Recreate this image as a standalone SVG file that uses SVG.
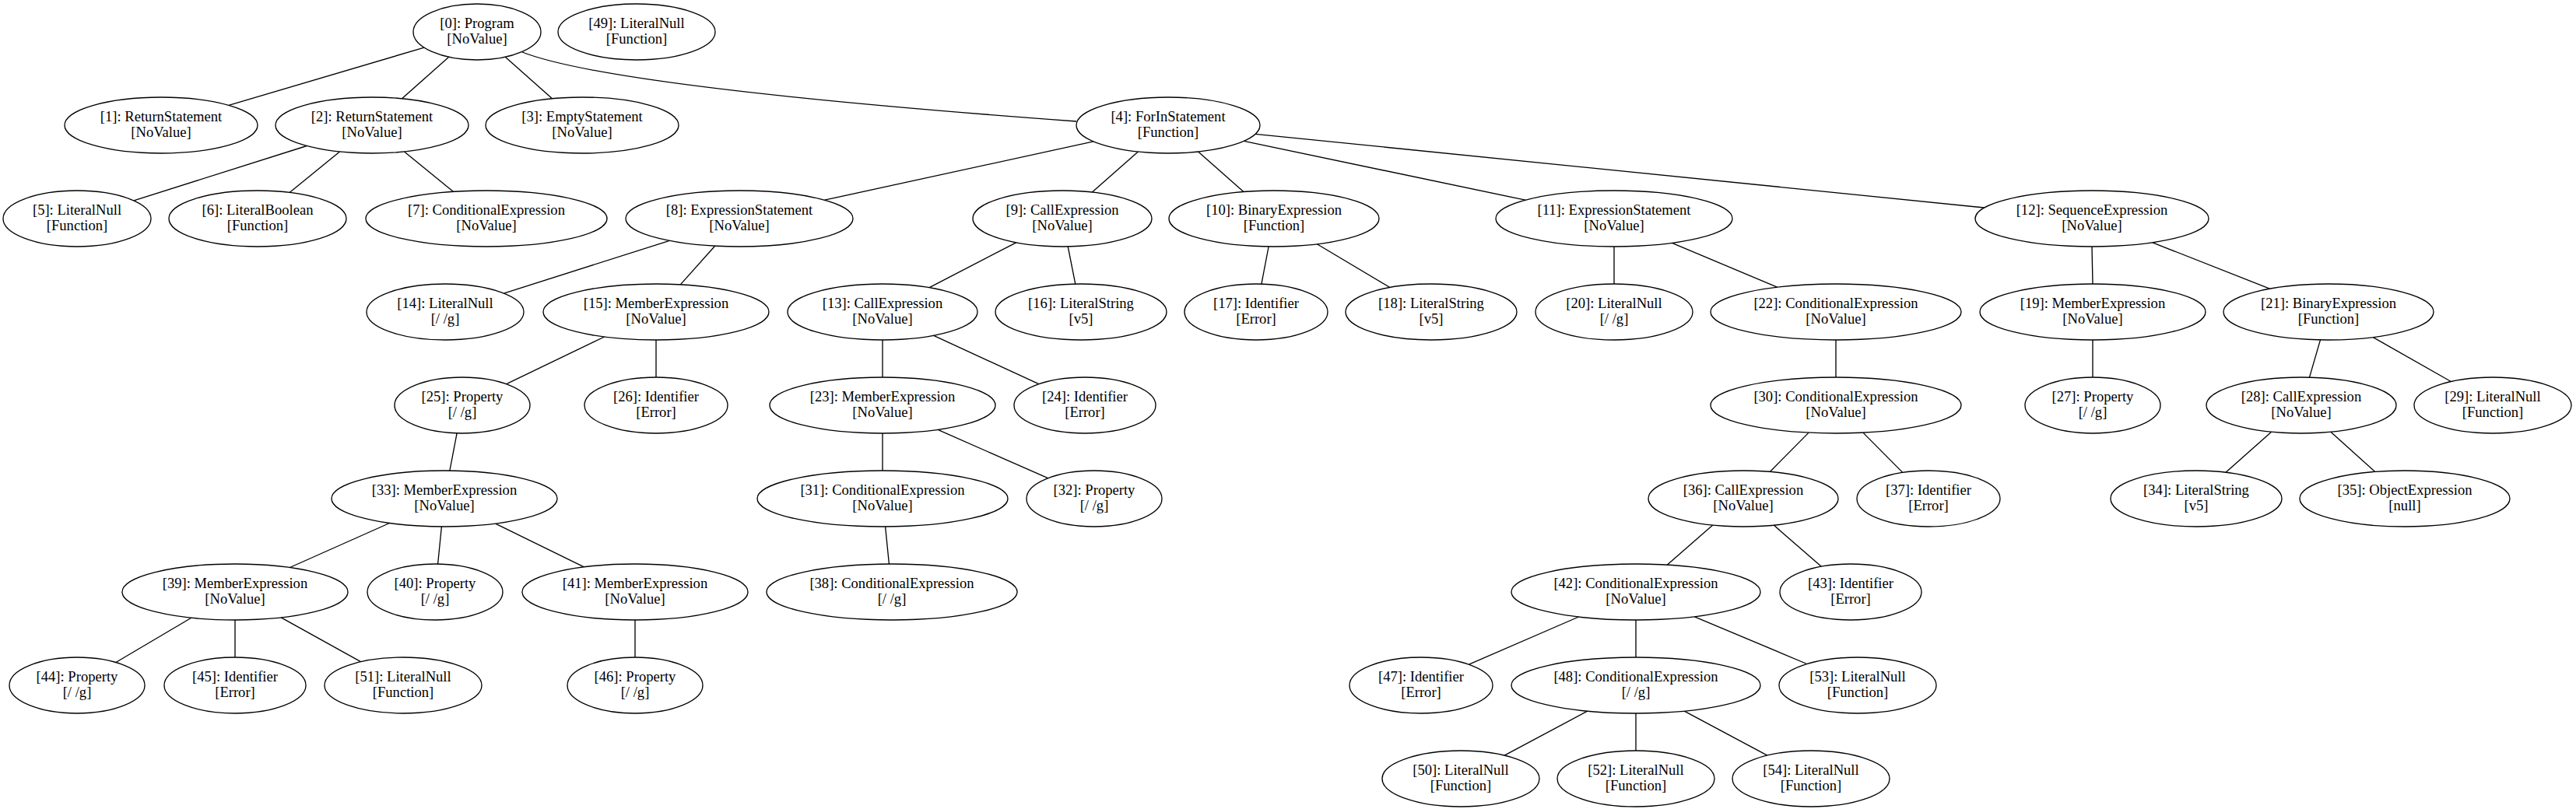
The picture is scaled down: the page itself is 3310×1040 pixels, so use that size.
<svg xmlns="http://www.w3.org/2000/svg" width="3310" height="1040" viewBox="0 0 3310 1040">
<style>
.n ellipse{fill:#fff;stroke:#000;stroke-width:1.33}
.n text{font-family:"Liberation Serif","Times New Roman",serif;font-size:18.6px;text-anchor:middle;fill:#000}
#edges line,#edges path{stroke:#000;stroke-width:1.33;fill:none}
</style>
<rect width="3310" height="1040" fill="#fff"/>
<g id="edges">
<line x1="545" y1="61.1" x2="293.9" y2="135.3"/>
<line x1="576.7" y1="73.3" x2="516.5" y2="126.8"/>
<line x1="649.3" y1="73.3" x2="709.5" y2="126.8"/>
<path d="M671,67 C750,98 1000,128 1383,156"/>
<line x1="394.2" y1="187.5" x2="171.9" y2="257.9"/>
<line x1="436.5" y1="194.9" x2="372.1" y2="247.4"/>
<line x1="519.5" y1="194.9" x2="582.6" y2="246.4"/>
<line x1="1405" y1="181.9" x2="1059.4" y2="257.2"/>
<line x1="1462.4" y1="195" x2="1403.4" y2="247.1"/>
<line x1="1539.6" y1="195" x2="1597.9" y2="246.5"/>
<line x1="1598.3" y1="181.4" x2="1960.1" y2="257.2"/>
<line x1="1613" y1="172.3" x2="2549.7" y2="267"/>
<line x1="860.4" y1="309.4" x2="647.4" y2="377.1"/>
<line x1="918.6" y1="316.2" x2="874.3" y2="365.9"/>
<line x1="1305.7" y1="311.8" x2="1194.2" y2="369.7"/>
<line x1="1372.2" y1="316.9" x2="1381.8" y2="365.1"/>
<line x1="1630.1" y1="317" x2="1620.9" y2="365.1"/>
<line x1="1692.3" y1="313.8" x2="1785.9" y2="369.5"/>
<line x1="2074" y1="317" x2="2074" y2="365"/>
<line x1="2148.5" y1="312.4" x2="2283.5" y2="369.2"/>
<line x1="2688" y1="317" x2="2689" y2="365"/>
<line x1="2765.9" y1="311.8" x2="2916.4" y2="371.2"/>
<line x1="776.6" y1="433" x2="650.7" y2="493.7"/>
<line x1="843" y1="437" x2="843" y2="485"/>
<line x1="1134" y1="437" x2="1134" y2="485"/>
<line x1="1199.7" y1="431.3" x2="1334.8" y2="493.7"/>
<line x1="2359" y1="437" x2="2359" y2="485"/>
<line x1="2689" y1="437" x2="2689" y2="485"/>
<line x1="2981.5" y1="436.9" x2="2967.5" y2="485.1"/>
<line x1="3049.3" y1="433.6" x2="3149.4" y2="490.5"/>
<line x1="587.1" y1="556.9" x2="577.9" y2="605"/>
<line x1="1134" y1="557" x2="1134" y2="605"/>
<line x1="1205.1" y1="552.4" x2="1346.5" y2="614.7"/>
<line x1="2324.1" y1="556.1" x2="2274.3" y2="606.5"/>
<line x1="2393.9" y1="556.1" x2="2444.7" y2="607.4"/>
<line x1="2918.6" y1="555.2" x2="2860" y2="607.2"/>
<line x1="2994.9" y1="555.2" x2="3051.7" y2="606.5"/>
<line x1="500.5" y1="672.5" x2="372.5" y2="729.5"/>
<line x1="567.4" y1="677" x2="562.6" y2="725"/>
<line x1="636.6" y1="673.1" x2="750.4" y2="728.9"/>
<line x1="1137.6" y1="677" x2="1142.4" y2="725"/>
<line x1="2200.8" y1="675.1" x2="2142.1" y2="726.2"/>
<line x1="2279.2" y1="675.1" x2="2340.3" y2="728.2"/>
<line x1="245.8" y1="794.2" x2="148.9" y2="851.5"/>
<line x1="302" y1="797" x2="302" y2="845"/>
<line x1="361.2" y1="793.9" x2="463.5" y2="850.7"/>
<line x1="816" y1="797" x2="816" y2="845"/>
<line x1="2028.5" y1="793" x2="1887.5" y2="854.2"/>
<line x1="2102" y1="797" x2="2102" y2="845"/>
<line x1="2177.4" y1="792.8" x2="2321.7" y2="853.5"/>
<line x1="2039.8" y1="914.2" x2="1933.1" y2="971.1"/>
<line x1="2102" y1="917" x2="2102" y2="965"/>
<line x1="2164.2" y1="914.2" x2="2270.9" y2="971.1"/>
</g>
<g id="n0" class="n"><ellipse cx="613" cy="41" rx="82" ry="36"/><text x="613" y="35.5">[0]: Program</text><text x="613" y="56">[NoValue]</text></g>
<g id="n49" class="n"><ellipse cx="818" cy="41" rx="101" ry="36"/><text x="818" y="35.5">[49]: LiteralNull</text><text x="818" y="56">[Function]</text></g>
<g id="n1" class="n"><ellipse cx="207" cy="161" rx="124" ry="36"/><text x="207" y="155.5">[1]: ReturnStatement</text><text x="207" y="176">[NoValue]</text></g>
<g id="n2" class="n"><ellipse cx="478" cy="161" rx="124" ry="36"/><text x="478" y="155.5">[2]: ReturnStatement</text><text x="478" y="176">[NoValue]</text></g>
<g id="n3" class="n"><ellipse cx="748" cy="161" rx="124" ry="36"/><text x="748" y="155.5">[3]: EmptyStatement</text><text x="748" y="176">[NoValue]</text></g>
<g id="n4" class="n"><ellipse cx="1501" cy="161" rx="118" ry="36"/><text x="1501" y="155.5">[4]: ForInStatement</text><text x="1501" y="176">[Function]</text></g>
<g id="n5" class="n"><ellipse cx="99" cy="281" rx="95" ry="36"/><text x="99" y="275.5">[5]: LiteralNull</text><text x="99" y="296">[Function]</text></g>
<g id="n6" class="n"><ellipse cx="331" cy="281" rx="114" ry="36"/><text x="331" y="275.5">[6]: LiteralBoolean</text><text x="331" y="296">[Function]</text></g>
<g id="n7" class="n"><ellipse cx="625" cy="281" rx="155" ry="36"/><text x="625" y="275.5">[7]: ConditionalExpression</text><text x="625" y="296">[NoValue]</text></g>
<g id="n8" class="n"><ellipse cx="950" cy="281" rx="146" ry="36"/><text x="950" y="275.5">[8]: ExpressionStatement</text><text x="950" y="296">[NoValue]</text></g>
<g id="n9" class="n"><ellipse cx="1365" cy="281" rx="115" ry="36"/><text x="1365" y="275.5">[9]: CallExpression</text><text x="1365" y="296">[NoValue]</text></g>
<g id="n10" class="n"><ellipse cx="1637" cy="281" rx="135" ry="36"/><text x="1637" y="275.5">[10]: BinaryExpression</text><text x="1637" y="296">[Function]</text></g>
<g id="n11" class="n"><ellipse cx="2074" cy="281" rx="152" ry="36"/><text x="2074" y="275.5">[11]: ExpressionStatement</text><text x="2074" y="296">[NoValue]</text></g>
<g id="n12" class="n"><ellipse cx="2688" cy="281" rx="150" ry="36"/><text x="2688" y="275.5">[12]: SequenceExpression</text><text x="2688" y="296">[NoValue]</text></g>
<g id="n14" class="n"><ellipse cx="572" cy="401" rx="101" ry="36"/><text x="572" y="395.5">[14]: LiteralNull</text><text x="572" y="416">[/ /g]</text></g>
<g id="n15" class="n"><ellipse cx="843" cy="401" rx="145" ry="36"/><text x="843" y="395.5">[15]: MemberExpression</text><text x="843" y="416">[NoValue]</text></g>
<g id="n13" class="n"><ellipse cx="1134" cy="401" rx="122" ry="36"/><text x="1134" y="395.5">[13]: CallExpression</text><text x="1134" y="416">[NoValue]</text></g>
<g id="n16" class="n"><ellipse cx="1389" cy="401" rx="110" ry="36"/><text x="1389" y="395.5">[16]: LiteralString</text><text x="1389" y="416">[v5]</text></g>
<g id="n17" class="n"><ellipse cx="1614" cy="401" rx="92" ry="36"/><text x="1614" y="395.5">[17]: Identifier</text><text x="1614" y="416">[Error]</text></g>
<g id="n18" class="n"><ellipse cx="1839" cy="401" rx="110" ry="36"/><text x="1839" y="395.5">[18]: LiteralString</text><text x="1839" y="416">[v5]</text></g>
<g id="n20" class="n"><ellipse cx="2074" cy="401" rx="101" ry="36"/><text x="2074" y="395.5">[20]: LiteralNull</text><text x="2074" y="416">[/ /g]</text></g>
<g id="n22" class="n"><ellipse cx="2359" cy="401" rx="161" ry="36"/><text x="2359" y="395.5">[22]: ConditionalExpression</text><text x="2359" y="416">[NoValue]</text></g>
<g id="n19" class="n"><ellipse cx="2689" cy="401" rx="145" ry="36"/><text x="2689" y="395.5">[19]: MemberExpression</text><text x="2689" y="416">[NoValue]</text></g>
<g id="n21" class="n"><ellipse cx="2992" cy="401" rx="135" ry="36"/><text x="2992" y="395.5">[21]: BinaryExpression</text><text x="2992" y="416">[Function]</text></g>
<g id="n25" class="n"><ellipse cx="594" cy="521" rx="87" ry="36"/><text x="594" y="515.5">[25]: Property</text><text x="594" y="536">[/ /g]</text></g>
<g id="n26" class="n"><ellipse cx="843" cy="521" rx="92" ry="36"/><text x="843" y="515.5">[26]: Identifier</text><text x="843" y="536">[Error]</text></g>
<g id="n23" class="n"><ellipse cx="1134" cy="521" rx="145" ry="36"/><text x="1134" y="515.5">[23]: MemberExpression</text><text x="1134" y="536">[NoValue]</text></g>
<g id="n24" class="n"><ellipse cx="1394" cy="521" rx="91" ry="36"/><text x="1394" y="515.5">[24]: Identifier</text><text x="1394" y="536">[Error]</text></g>
<g id="n30" class="n"><ellipse cx="2359" cy="521" rx="161" ry="36"/><text x="2359" y="515.5">[30]: ConditionalExpression</text><text x="2359" y="536">[NoValue]</text></g>
<g id="n27" class="n"><ellipse cx="2689" cy="521" rx="87" ry="36"/><text x="2689" y="515.5">[27]: Property</text><text x="2689" y="536">[/ /g]</text></g>
<g id="n28" class="n"><ellipse cx="2957" cy="521" rx="122" ry="36"/><text x="2957" y="515.5">[28]: CallExpression</text><text x="2957" y="536">[NoValue]</text></g>
<g id="n29" class="n"><ellipse cx="3203" cy="521" rx="101" ry="36"/><text x="3203" y="515.5">[29]: LiteralNull</text><text x="3203" y="536">[Function]</text></g>
<g id="n33" class="n"><ellipse cx="571" cy="641" rx="145" ry="36"/><text x="571" y="635.5">[33]: MemberExpression</text><text x="571" y="656">[NoValue]</text></g>
<g id="n31" class="n"><ellipse cx="1134" cy="641" rx="161" ry="36"/><text x="1134" y="635.5">[31]: ConditionalExpression</text><text x="1134" y="656">[NoValue]</text></g>
<g id="n32" class="n"><ellipse cx="1406" cy="641" rx="87" ry="36"/><text x="1406" y="635.5">[32]: Property</text><text x="1406" y="656">[/ /g]</text></g>
<g id="n36" class="n"><ellipse cx="2240" cy="641" rx="122" ry="36"/><text x="2240" y="635.5">[36]: CallExpression</text><text x="2240" y="656">[NoValue]</text></g>
<g id="n37" class="n"><ellipse cx="2478" cy="641" rx="92" ry="36"/><text x="2478" y="635.5">[37]: Identifier</text><text x="2478" y="656">[Error]</text></g>
<g id="n34" class="n"><ellipse cx="2822" cy="641" rx="110" ry="36"/><text x="2822" y="635.5">[34]: LiteralString</text><text x="2822" y="656">[v5]</text></g>
<g id="n35" class="n"><ellipse cx="3090" cy="641" rx="135" ry="36"/><text x="3090" y="635.5">[35]: ObjectExpression</text><text x="3090" y="656">[null]</text></g>
<g id="n39" class="n"><ellipse cx="302" cy="761" rx="145" ry="36"/><text x="302" y="755.5">[39]: MemberExpression</text><text x="302" y="776">[NoValue]</text></g>
<g id="n40" class="n"><ellipse cx="559" cy="761" rx="87" ry="36"/><text x="559" y="755.5">[40]: Property</text><text x="559" y="776">[/ /g]</text></g>
<g id="n41" class="n"><ellipse cx="816" cy="761" rx="145" ry="36"/><text x="816" y="755.5">[41]: MemberExpression</text><text x="816" y="776">[NoValue]</text></g>
<g id="n38" class="n"><ellipse cx="1146" cy="761" rx="161" ry="36"/><text x="1146" y="755.5">[38]: ConditionalExpression</text><text x="1146" y="776">[/ /g]</text></g>
<g id="n42" class="n"><ellipse cx="2102" cy="761" rx="160" ry="36"/><text x="2102" y="755.5">[42]: ConditionalExpression</text><text x="2102" y="776">[NoValue]</text></g>
<g id="n43" class="n"><ellipse cx="2378" cy="761" rx="91" ry="36"/><text x="2378" y="755.5">[43]: Identifier</text><text x="2378" y="776">[Error]</text></g>
<g id="n44" class="n"><ellipse cx="99" cy="881" rx="87" ry="36"/><text x="99" y="875.5">[44]: Property</text><text x="99" y="896">[/ /g]</text></g>
<g id="n45" class="n"><ellipse cx="302" cy="881" rx="91" ry="36"/><text x="302" y="875.5">[45]: Identifier</text><text x="302" y="896">[Error]</text></g>
<g id="n51" class="n"><ellipse cx="518" cy="881" rx="101" ry="36"/><text x="518" y="875.5">[51]: LiteralNull</text><text x="518" y="896">[Function]</text></g>
<g id="n46" class="n"><ellipse cx="816" cy="881" rx="87" ry="36"/><text x="816" y="875.5">[46]: Property</text><text x="816" y="896">[/ /g]</text></g>
<g id="n47" class="n"><ellipse cx="1826" cy="881" rx="92" ry="36"/><text x="1826" y="875.5">[47]: Identifier</text><text x="1826" y="896">[Error]</text></g>
<g id="n48" class="n"><ellipse cx="2102" cy="881" rx="160" ry="36"/><text x="2102" y="875.5">[48]: ConditionalExpression</text><text x="2102" y="896">[/ /g]</text></g>
<g id="n53" class="n"><ellipse cx="2387" cy="881" rx="101" ry="36"/><text x="2387" y="875.5">[53]: LiteralNull</text><text x="2387" y="896">[Function]</text></g>
<g id="n50" class="n"><ellipse cx="1877" cy="1001" rx="101" ry="36"/><text x="1877" y="995.5">[50]: LiteralNull</text><text x="1877" y="1016">[Function]</text></g>
<g id="n52" class="n"><ellipse cx="2102" cy="1001" rx="101" ry="36"/><text x="2102" y="995.5">[52]: LiteralNull</text><text x="2102" y="1016">[Function]</text></g>
<g id="n54" class="n"><ellipse cx="2327" cy="1001" rx="101" ry="36"/><text x="2327" y="995.5">[54]: LiteralNull</text><text x="2327" y="1016">[Function]</text></g>
</svg>
